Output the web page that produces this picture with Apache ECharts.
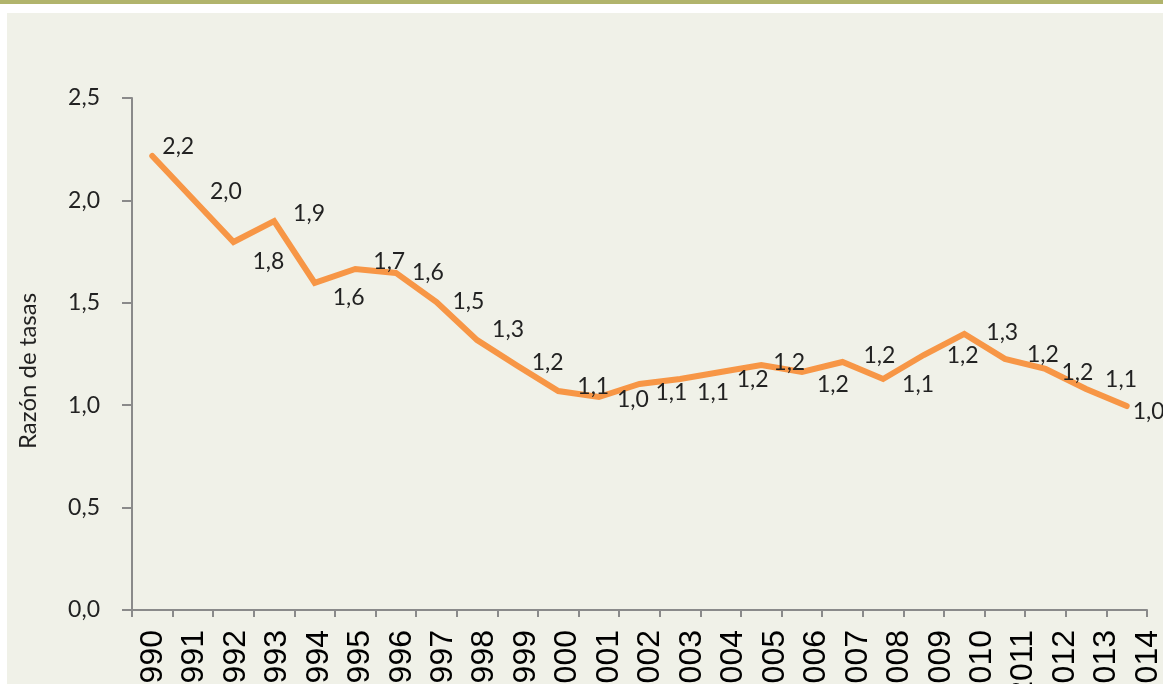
<!DOCTYPE html>
<html>
<head>
<meta charset="utf-8">
<title>Razón de tasas 1990-2014</title>
<script src="https://cdn.jsdelivr.net/npm/echarts@6/dist/echarts.min.js"></script>
<style>
  html, body { margin: 0; padding: 0; background: #ffffff; }
  #chart { width: 1163px; height: 684px; }
</style>
</head>
<body>
<div id="chart"></div>
<script>
// años (categorías)
const years = ['1990', '1991', '1992', '1993', '1994', '1995', '1996', '1997', '1998', '1999',
  '2000', '2001', '2002', '2003', '2004', '2005', '2006', '2007', '2008', '2009',
  '2010', '2011', '2012', '2013', '2014'];
// razón de tasas
const ratios = [2.217, 2.007, 1.797, 1.899, 1.597, 1.665, 1.646, 1.504, 1.318, 1.191,
  1.069, 1.040, 1.104, 1.128, 1.162, 1.196, 1.162, 1.211, 1.128, 1.245,
  1.348, 1.226, 1.177, 1.079, 0.996];
const yTicks = [0, 0.5, 1, 1.5, 2, 2.5];

// desplazamiento de cada etiqueta [dx, dy] (solo estilo)
const labelShift = [[-6, -9], [1, -7], [3, 20], [3, -8], [2, 15], [2, -7], [0, 0], [0, 0], [-1, -10], [-2, -4],
  [3, -4], [2, 3], [0, 9], [1, 14], [0, 8], [-4, -2], [-1, 13], [5, -6], [3, 6], [7, 1],
  [6, -1], [6, -4], [0, 4], [3, -9], [-10, 6]];

const fmt = v => v.toFixed(1).replace('.', ',');
const labelFont = 'Lato, "Open Sans", sans-serif';
const axisGray = '#8a8a8a';
const orange = '#f79646';

const chart = echarts.init(document.getElementById('chart'));
chart.setOption({
  backgroundColor: 'transparent',
  animation: false,
  graphic: [
    { type: 'rect', z: -10, silent: true, shape: { x: 0, y: 0, width: 1163, height: 4 }, style: { fill: '#b1b46c' } },
    { type: 'rect', z: -10, silent: true, shape: { x: 7, y: 13, width: 1156, height: 671 }, style: { fill: '#f0f1e8' } }
  ],
  grid: [
    { left: 132, right: 16, top: 98, bottom: 74, outerBoundsMode: 'none' },
    { left: 153, right: 15, top: 98, bottom: 74, outerBoundsMode: 'none' }
  ],
  xAxis: [
    {
      type: 'category',
      gridIndex: 0,
      data: years,
      boundaryGap: true,
      axisLine: { lineStyle: { color: axisGray, width: 2 } },
      axisTick: { show: true, interval: 0, length: 7, lineStyle: { color: axisGray, width: 2 } },
      axisLabel: { show: false }
    },
    {
      // etiquetas de años
      type: 'category',
      gridIndex: 1,
      data: years,
      boundaryGap: false,
      axisLine: { show: false },
      axisTick: { show: false },
      axisLabel: {
        interval: 0,
        rotate: 90,
        margin: 20,
        color: '#000000',
        fontSize: 32,
        fontFamily: '"Liberation Sans", Arial, sans-serif'
      }
    }
  ],
  yAxis: [
    {
      type: 'value',
      gridIndex: 0,
      min: yTicks[0],
      max: yTicks[yTicks.length - 1],
      interval: 0.5,
      name: 'Razón de tasas',
      nameLocation: 'middle',
      nameGap: 92,
      nameTextStyle: { color: '#222222', fontSize: 24, fontFamily: labelFont, padding: [0, 34, 0, 0] },
      axisLine: { show: true, lineStyle: { color: axisGray, width: 2 } },
      axisTick: { show: true, length: 10, lineStyle: { color: axisGray, width: 2 } },
      splitLine: { show: false },
      axisLabel: {
        margin: 32,
        color: '#222222',
        fontSize: 23,
        fontFamily: labelFont,
        formatter: v => fmt(v)
      }
    },
    { type: 'value', gridIndex: 1, min: 0, max: 1, show: false }
  ],
  series: [
    {
      type: 'line',
      xAxisIndex: 0,
      yAxisIndex: 0,
      data: ratios,
      showSymbol: true,
      symbol: 'circle',
      symbolSize: 2,
      lineStyle: { color: orange, width: 6, cap: 'round', join: 'miter' },
      itemStyle: { color: orange },
      label: {
        show: true,
        position: 'right',
        distance: 15,
        color: '#222222',
        fontSize: 23,
        fontFamily: labelFont,
        formatter: p => fmt(p.value)
      },
      labelLayout: p => ({
        hideOverlap: false,
        dx: labelShift[p.dataIndex][0],
        dy: labelShift[p.dataIndex][1]
      })
    }
  ]
});
</script>
</body>
</html>
